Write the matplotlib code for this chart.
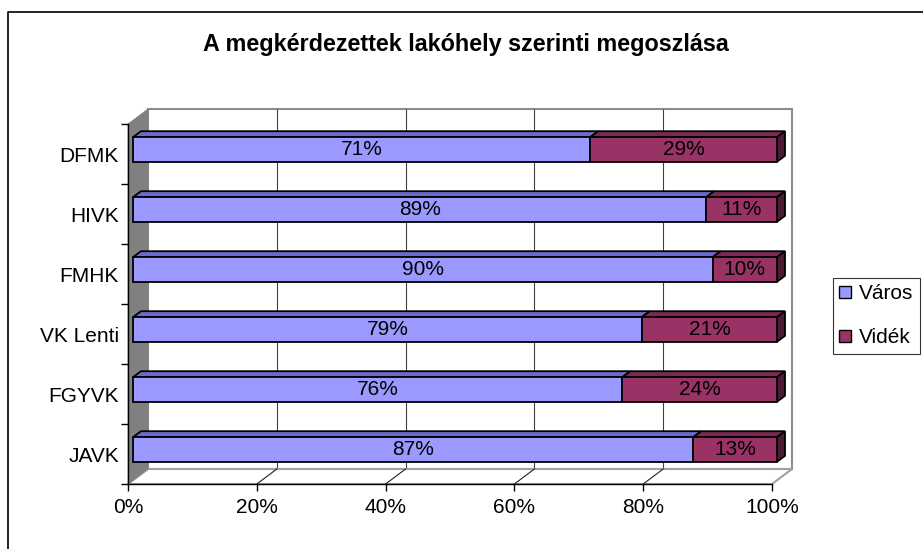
import matplotlib.pyplot as plt
from matplotlib.patches import Polygon, Patch
from matplotlib.transforms import offset_copy, IdentityTransform
from matplotlib.lines import Line2D

plt.rcParams['font.family'] = ['Liberation Sans', 'DejaVu Sans']

# adatok
categories = ['DFMK', 'HIVK', 'FMHK', 'VK Lenti', 'FGYVK', 'JAVK']
varos = [71, 89, 90, 79, 76, 87]
videk = [29, 11, 10, 21, 24, 13]
xticks = [0, 20, 40, 60, 80, 100]
title = 'A megkérdezettek lakóhely szerinti megoszlása'

W, H = 923, 549
fig = plt.figure(figsize=(W / 100, H / 100), dpi=100)

# front plane of the pseudo 3D box (pixels, from top-left)
x0, x1, ytop, ybot = 128, 772, 124, 484
DX, DY = 20, 15        # depth of the whole box
BX, BY = 5, 4.5        # where the bars stand inside the box
BDX, BDY = 8, 6        # depth of a bar

ax = fig.add_axes([x0 / W, 1 - ybot / H, (x1 - x0) / W, (ybot - ytop) / H])
ax.set_xlim(0, 100)
ax.set_ylim(len(categories) - 0.5, -0.5)
ax.set_facecolor('none')


def px(x, y, dx=0, dy=0):
    X, Y = ax.transData.transform((x, y))
    return (X + dx, Y + dy)


def poly(pts, fc, ec, lw, z):
    ax.add_patch(Polygon(pts, closed=True, facecolor=fc, edgecolor=ec, lw=lw,
                         transform=IdentityTransform(), clip_on=False, zorder=z))


lo, hi = -0.5, len(categories) - 0.5

# back wall
poly([px(0, lo, DX, DY), px(100, lo, DX, DY), px(100, hi, DX, DY), px(0, hi, DX, DY)],
     'white', '#8c8c8c', 1.5, 0.1)
# gridlines on the back wall
ax.vlines(xticks[1:-1], lo, hi, colors='#404040', lw=0.8, zorder=0.2,
          transform=offset_copy(ax.transData, fig, x=DX, y=DY, units='dots'), clip_on=False)
# floor
poly([px(0, hi), px(100, hi), px(100, hi, DX, DY), px(0, hi, DX, DY)],
     'white', '#a0a0a0', 1.5, 0.3)
for t in xticks[1:-1]:
    a, b = px(t, hi), px(t, hi, DX, DY)
    fig.add_artist(Line2D([a[0], b[0]], [a[1], b[1]], color='#202020', lw=0.8,
                          transform=IdentityTransform(), zorder=0.4))
# left wall
poly([px(0, lo), px(0, lo, DX, DY), px(0, hi, DX, DY), px(0, hi)],
     '#808080', '#808080', 0.5, 0.5)

# bars
c_v, c_v_top = '#9999ff', '#6b6bcc'
c_r, c_r_top, c_r_side = '#993366', '#7a2952', '#4d1a33'
h = 0.41
btr = offset_copy(ax.transData, fig, x=BX, y=BY, units='dots')
ax.barh(categories, varos, height=h, color=c_v, edgecolor='black', lw=1.3,
        transform=btr, zorder=3, clip_on=False)
ax.barh(categories, videk, left=varos, height=h, color=c_r, edgecolor='black', lw=1.3,
        transform=btr, zorder=3, clip_on=False)

for i in range(len(categories)):
    yt, yb = i - h / 2, i + h / 2
    a, b, c = 0, varos[i], varos[i] + videk[i]
    # top faces
    poly([px(a, yt, BX, BY), px(b, yt, BX, BY), px(b, yt, BX + BDX, BY + BDY), px(a, yt, BX + BDX, BY + BDY)],
         c_v_top, 'black', 1.3, 2)
    poly([px(b, yt, BX, BY), px(c, yt, BX, BY), px(c, yt, BX + BDX, BY + BDY), px(b, yt, BX + BDX, BY + BDY)],
         c_r_top, 'black', 1.3, 2)
    # right side face
    poly([px(c, yt, BX, BY), px(c, yt, BX + BDX, BY + BDY), px(c, yb, BX + BDX, BY + BDY), px(c, yb, BX, BY)],
         c_r_side, 'black', 1.3, 2)
    # data labels
    ax.text(b / 2, i, f'{varos[i]}%', transform=btr, ha='center', va='center',
            fontsize=15, zorder=5)
    ax.text((b + c) / 2, i, f'{videk[i]}%', transform=btr, ha='center', va='center',
            fontsize=15, zorder=5)

# axes
for s in ['top', 'right']:
    ax.spines[s].set_visible(False)
for s in ['left', 'bottom']:
    ax.spines[s].set_linewidth(1.0)
    ax.spines[s].set_zorder(1)
ax.set_xticks(xticks)
ax.set_xticklabels([f'{t}%' for t in xticks])
ax.tick_params(axis='x', length=5, width=1, pad=5, labelsize=15, direction='out')
ax.set_yticks(range(len(categories)))
ax.set_yticklabels(categories)
ax.tick_params(axis='y', which='major', length=0, pad=6.5, labelsize=15)
ax.set_yticks([k - 0.5 for k in range(len(categories) + 1)], minor=True)
ax.tick_params(axis='y', which='minor', length=5, width=1, direction='out')

# title
fig.text(466 / W, 1 - 45 / H, title, ha='center', va='center', fontsize=16.8, fontweight='bold')

# legend
handles = [Patch(facecolor=c_v, edgecolor='black', lw=1.0, label='Város'),
           Patch(facecolor=c_r, edgecolor='black', lw=1.0, label='Vidék')]
leg = fig.legend(handles=handles, loc='upper left', bbox_to_anchor=(833 / W, 1 - 278 / H),
                 fontsize=15, frameon=True, fancybox=False, edgecolor='black',
                 handlelength=0.55, handleheight=0.55, handletextpad=0.4,
                 borderpad=0.3, labelspacing=1.2, borderaxespad=0)
leg.get_frame().set_linewidth(0.8)

# outer chart border
fig.add_artist(Line2D([8 / W, 8 / W, 1.0], [0, 1 - 12 / H, 1 - 12 / H], color='black', lw=1.2))

fig.savefig('out.png', dpi=100, facecolor='white')
